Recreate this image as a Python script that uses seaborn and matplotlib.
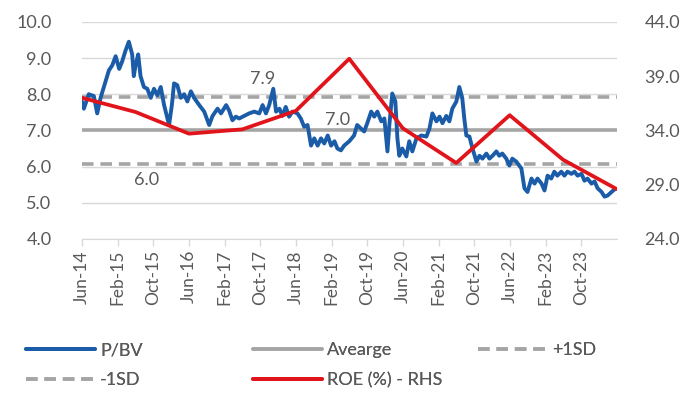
import matplotlib
matplotlib.use("Agg")
import matplotlib.pyplot as plt
from matplotlib.lines import Line2D
import seaborn as sns
import pandas as pd

# ---------------- data ----------------
pbv_dates = [
    "2014-06-01", "2014-06-14", "2014-07-17", "2014-08-21", "2014-09-13", "2014-10-06",
    "2014-11-09", "2014-12-02", "2014-12-25", "2015-01-17", "2015-02-10", "2015-03-02",
    "2015-03-25", "2015-04-17", "2015-05-10", "2015-05-21", "2015-06-02", "2015-06-20",
    "2015-07-06", "2015-07-29", "2015-08-21", "2015-09-14", "2015-10-06", "2015-10-29",
    "2015-11-21", "2015-12-14", "2016-01-06", "2016-01-17", "2016-02-05", "2016-02-20",
    "2016-03-13", "2016-04-06", "2016-04-29", "2016-05-21", "2016-06-14", "2016-07-06",
    "2016-08-10", "2016-09-13", "2016-10-17", "2016-11-09", "2016-12-13", "2017-01-06",
    "2017-02-10", "2017-03-02", "2017-03-25", "2017-04-17", "2017-05-10", "2017-06-13",
    "2017-07-17", "2017-08-21", "2017-09-24", "2017-10-17", "2017-11-09", "2017-12-01",
    "2017-12-29", "2018-01-17", "2018-02-09", "2018-03-01", "2018-03-24", "2018-04-16",
    "2018-05-09", "2018-06-12", "2018-07-05", "2018-07-28", "2018-08-20", "2018-09-13",
    "2018-10-05", "2018-10-28", "2018-11-20", "2018-12-12", "2019-01-05", "2019-01-28",
    "2019-02-20", "2019-03-12", "2019-04-05", "2019-04-27", "2019-06-01", "2019-07-04",
    "2019-07-25", "2019-08-21", "2019-09-11", "2019-10-02", "2019-10-29", "2019-11-19",
    "2019-12-10", "2020-01-06", "2020-01-27", "2020-02-17", "2020-03-01", "2020-03-21",
    "2020-04-11", "2020-04-25", "2020-05-08", "2020-05-28", "2020-06-25", "2020-07-15",
    "2020-08-05", "2020-09-02", "2020-10-06", "2020-11-09", "2020-11-30", "2020-12-20",
    "2021-01-17", "2021-02-07", "2021-02-27", "2021-03-25", "2021-04-15", "2021-05-05",
    "2021-06-02", "2021-06-22", "2021-07-12", "2021-07-26", "2021-08-09", "2021-08-30",
    "2021-09-20", "2021-10-17", "2021-11-07", "2021-11-27", "2021-12-24", "2022-01-14",
    "2022-02-04", "2022-03-02", "2022-03-22", "2022-04-12", "2022-05-09", "2022-05-30",
    "2022-06-19", "2022-07-16", "2022-08-20", "2022-09-10", "2022-10-01", "2022-10-28",
    "2022-11-18", "2022-12-08", "2023-01-05", "2023-01-25", "2023-02-15", "2023-03-12",
    "2023-04-02", "2023-04-23", "2023-05-20", "2023-06-10", "2023-07-01", "2023-07-28",
    "2023-08-18", "2023-09-08", "2023-10-05", "2023-10-25", "2023-11-15", "2023-12-12",
    "2024-01-02", "2024-01-23", "2024-02-19", "2024-03-10", "2024-03-31", "2024-04-27",
    "2024-05-20",
]
pbv_values = [
    7.80, 7.60, 8.00, 7.95, 7.47, 7.90,
    8.35, 8.66, 8.80, 9.05, 8.70, 8.90,
    9.20, 9.45, 9.10, 8.50, 8.80, 9.10,
    8.50, 8.20, 8.15, 7.90, 8.15, 7.97,
    8.20, 7.70, 7.33, 7.15, 7.70, 8.30,
    8.25, 7.90, 8.00, 7.80, 8.08, 7.90,
    7.70, 7.52, 7.15, 7.40, 7.60, 7.47,
    7.70, 7.55, 7.28, 7.38, 7.33, 7.40,
    7.47, 7.52, 7.47, 7.70, 7.47, 7.70,
    8.15, 7.52, 7.60, 7.40, 7.65, 7.38,
    7.52, 7.47, 7.33, 7.10, 7.15, 6.58,
    6.78, 6.58, 6.78, 6.64, 6.86, 6.58,
    6.70, 6.50, 6.45, 6.58, 6.70, 6.86,
    7.15, 7.05, 6.97, 7.20, 7.52, 7.38,
    7.52, 7.25, 7.33, 6.42, 7.15, 8.02,
    7.80, 6.78, 6.30, 6.50, 6.28, 6.70,
    6.42, 6.78, 6.86, 6.83, 7.05, 7.47,
    7.25, 7.38, 7.20, 7.40, 7.25, 7.60,
    7.80, 8.20, 7.90, 7.33, 6.86, 6.83,
    6.50, 6.14, 6.30, 6.22, 6.36, 6.22,
    6.30, 6.42, 6.30, 6.36, 6.22, 6.03,
    6.22, 6.14, 5.95, 5.40, 5.30, 5.67,
    5.53, 5.67, 5.53, 5.34, 5.75, 5.67,
    5.86, 5.75, 5.86, 5.75, 5.86, 5.80,
    5.86, 5.75, 5.80, 5.61, 5.67, 5.53,
    5.59, 5.40, 5.30, 5.17, 5.20, 5.30,
    5.38,
]
roe_dates = ["2014-06-01", "2015-06-01", "2016-06-01", "2017-06-01", "2018-06-01",
             "2019-06-01", "2020-06-01", "2021-06-01", "2022-06-01", "2023-06-01",
             "2024-06-01"]
roe_values = [37.0, 35.7, 33.7, 34.1, 35.8, 40.6, 34.2, 31.0, 35.4, 31.3, 28.6]

pbv_average = 7.0
pbv_plus_sd = 7.93
pbv_minus_sd = 6.07

legend_labels = ["P/BV", "Avearge", "+1SD", "-1SD", "ROE (%) - RHS"]
annotations = [("2017-10-20", 8.42, "7.9"), ("2019-03-10", 7.28, "7.0"), ("2015-08-15", 5.62, "6.0")]

# ---------------- style ----------------
sns.set_style("white")
plt.rcParams["font.family"] = ["Lato", "DejaVu Sans"]

BLUE = "#1b5ca8"
RED = "#e2141b"
GRAY = "#a5a5a5"
GRID = "#d9d9d9"
TXT = "#595959"
DASH = (0, (3.2, 1.9))

pbv = pd.DataFrame({"date": pd.to_datetime(pbv_dates), "value": pbv_values})
roe = pd.DataFrame({"date": pd.to_datetime(roe_dates), "value": roe_values})

fig = plt.figure(figsize=(6.89, 3.97), dpi=100)
ax = fig.add_axes([0.119, 0.398, 0.776, 0.547])
ax2 = ax.twinx()

for v in [4, 5, 6, 8, 9, 10]:
    ax.axhline(v, color=GRID, lw=1.0, zorder=0)

ax.axhline(pbv_average, color=GRAY, lw=2.6, zorder=1)
ax.axhline(pbv_plus_sd, color=GRAY, lw=2.6, ls=DASH, zorder=1)
ax.axhline(pbv_minus_sd, color=GRAY, lw=2.6, ls=DASH, zorder=1)

sns.lineplot(data=pbv, x="date", y="value", ax=ax, color=BLUE, lw=2.8, zorder=3)
sns.lineplot(data=roe, x="date", y="value", ax=ax2, color=RED, lw=2.7, zorder=4)

ax.set_xlim(pd.Timestamp("2014-06-01"), pd.Timestamp("2024-06-01"))
ax.set_ylim(4, 10)
ax2.set_ylim(24, 44)

ax.set_yticks([4, 5, 6, 7, 8, 9, 10])
ax.set_yticklabels([f"{v:.1f}" for v in [4, 5, 6, 7, 8, 9, 10]])
ax2.set_yticks([24, 29, 34, 39, 44])
ax2.set_yticklabels([f"{v:.1f}" for v in [24, 29, 34, 39, 44]])

xt = pd.date_range("2014-06-01", periods=15, freq="8MS")
ax.set_xticks(xt)
ax.set_xticklabels([d.strftime("%b-%y") for d in xt], rotation=90)

for a in (ax, ax2):
    a.set_xlabel("")
    a.set_ylabel("")
    for s in a.spines.values():
        s.set_visible(False)
ax.spines["bottom"].set_visible(True)
ax.spines["bottom"].set_color(GRID)

ax.tick_params(axis="x", length=5, color=GRID, width=1, pad=3, labelsize=12.5, labelcolor=TXT, direction="out", bottom=True)
ax.tick_params(axis="y", length=0, pad=22, labelsize=13, labelcolor=TXT)
ax2.tick_params(axis="y", length=0, pad=20, labelsize=13, labelcolor=TXT)
ax2.patch.set_visible(False)

for d, y, t in annotations:
    ax.text(pd.Timestamp(d), y, t, ha="center", va="center", fontsize=13, color=TXT, zorder=5)

handles = [
    Line2D([], [], color=BLUE, lw=2.8),
    Line2D([], [], color=GRAY, lw=2.6),
    Line2D([], [], color=GRAY, lw=2.6, ls=DASH),
    Line2D([], [], color=GRAY, lw=2.6, ls=DASH),
    Line2D([], [], color=RED, lw=2.8),
]
columns = [([0, 3], 26), ([1, 4], 253), ([2], 478)]
for idx, xpx in columns:
    leg = fig.legend([handles[i] for i in idx], [legend_labels[i] for i in idx],
                     loc="upper left", bbox_to_anchor=(xpx / 689, 1 - 342 / 397),
                     frameon=False, fontsize=13, handlelength=3.8, handletextpad=0.3,
                     labelspacing=0.78, borderpad=0, borderaxespad=0)
    for t in leg.get_texts():
        t.set_color(TXT)
    fig.add_artist(leg)

fig.savefig("out.png", dpi=100)
